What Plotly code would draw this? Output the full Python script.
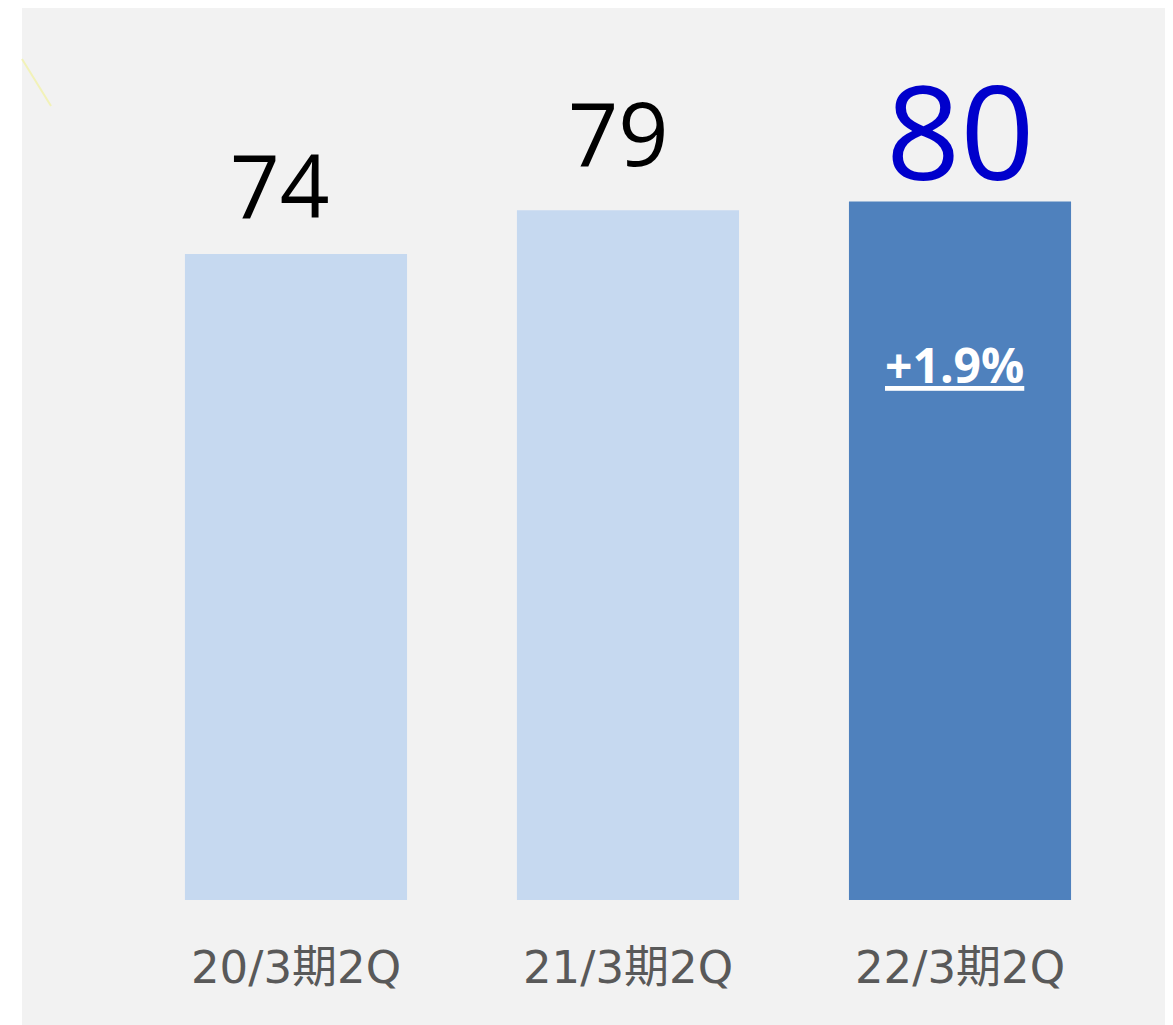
import plotly.graph_objects as go

categories = ["20/3期2Q", "21/3期2Q", "22/3期2Q"]
values = [74, 79, 80]
bar_colors = ["#c6d9f0", "#c6d9f0", "#4f81bd"]
label_colors = ["#000000", "#000000", "#0000cc"]
label_sizes = [87, 88, 130]
label_shifts = [70, 78, 72]
label_xshifts = [-16, -10, 0]
growth_text = "+1.9%"

fig = go.Figure()
fig.add_trace(go.Bar(
    x=categories, y=values,
    marker=dict(color=bar_colors, line=dict(width=0)),
    hoverinfo="skip",
))

annotations = []
for c, v, col, sz, sh, xs in zip(categories, values, label_colors, label_sizes,
                                 label_shifts, label_xshifts):
    annotations.append(dict(
        x=c, y=v, xref="x", yref="y", text=str(v), showarrow=False,
        yanchor="middle", yshift=sh, xshift=xs,
        font=dict(family="Open Sans", size=sz, color=col),
    ))
annotations.append(dict(
    x=categories[2], y=values[2], xref="x", yref="y",
    text="<b><u>" + growth_text + "</u></b>", showarrow=False,
    yanchor="middle", yshift=-163, xshift=-6,
    font=dict(family="Open Sans", size=48, color="#ffffff"),
))

# plot area: left 122, top 19, width 996, height 873 (figure px)
shapes = [
    dict(type="rect", xref="paper", yref="paper",
         x0=(14 - 122) / 996, x1=(1190 - 122) / 996,
         y0=(892 - 1030) / 873, y1=(892 - 0) / 873,
         fillcolor="#f2f2f2", line=dict(width=0), layer="below"),
    dict(type="line", xref="paper", yref="paper",
         x0=(14 - 122) / 996, y0=(892 - 51) / 873,
         x1=(43 - 122) / 996, y1=(892 - 98) / 873,
         line=dict(color="#f2f2b8", width=2), layer="below"),
]

fig.update_layout(
    width=1173, height=1025,
    margin=dict(l=122, r=55, t=19, b=133),
    paper_bgcolor="#ffffff", plot_bgcolor="rgba(0,0,0,0)",
    bargap=0.331, showlegend=False,
    annotations=annotations, shapes=shapes,
    xaxis=dict(showgrid=False, zeroline=False, showline=False, ticks="",
               tickfont=dict(family="DejaVu Sans, Noto Sans CJK JP", size=45, color="#595959"),
               ticklabelstandoff=37),
    yaxis=dict(range=[0, 100], visible=False),
)

fig.write_html("out.html")
